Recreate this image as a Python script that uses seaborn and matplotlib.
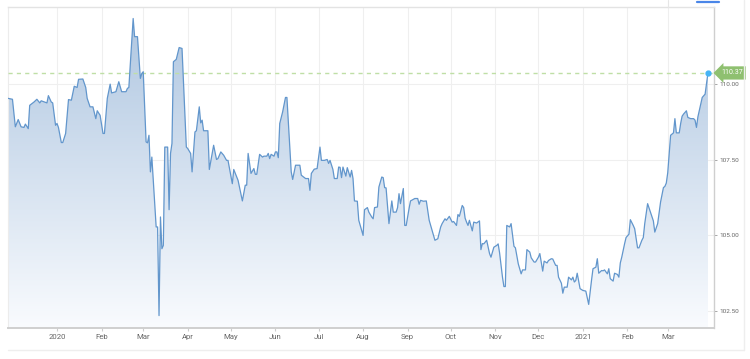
import matplotlib
matplotlib.use("Agg")
import matplotlib.pyplot as plt
import matplotlib.dates as mdates
import matplotlib.transforms as mtransforms
from matplotlib.colors import LinearSegmentedColormap
from matplotlib.lines import Line2D
import numpy as np
import pandas as pd
import seaborn as sns

# ---------------- data (days since 2020-01-01, value) ----------------
start_date = "2020-01-01"

days_dec_feb = [-34, -31, -29, -27, -25, -23, -22, -20, -19, -16, -14, -12, -11, -7, -6, -4, -3, -1, 0, 1,
                3, 4, 6, 8, 10, 12, 14, 15, 18, 20, 21, 23, 25, 27, 28, 30, 32, 33, 35, 37, 38, 41, 43, 45, 47]
vals_dec_feb = [109.53, 109.50, 108.59, 108.83, 108.59, 108.57, 108.68, 108.53, 109.30, 109.41, 109.50, 109.38,
                109.45, 109.38, 109.62, 109.41, 109.38, 108.64, 108.70, 108.57, 108.07, 108.07, 108.37, 109.49,
                109.47, 109.93, 109.89, 110.16, 110.17, 109.89, 109.53, 109.25, 109.25, 108.86, 109.12, 108.97,
                108.37, 108.37, 109.53, 110.00, 109.71, 109.75, 110.08, 109.75, 109.75]

days_feb_may = [48, 49, 50, 53, 54, 56, 58, 59, 60, 62, 63, 64, 65, 66, 69, 70, 71, 72, 73, 74, 75, 77, 78, 79,
                80, 81, 83, 85, 87, 90, 91, 93, 94, 96, 97, 99, 100, 101, 102, 105, 106, 109, 111, 112, 114, 116,
                118, 119, 122, 123]
vals_feb_may = [109.75, 109.86, 109.89, 112.17, 111.57, 111.57, 110.19, 110.35, 110.41, 108.09, 108.06, 108.31,
                107.10, 107.59, 105.28, 105.28, 102.35, 105.61, 104.56, 104.67, 107.92, 107.92, 105.85, 107.71,
                108.04, 110.74, 110.82, 111.21, 111.18, 107.92, 107.87, 107.71, 107.10, 108.42, 108.46, 109.25,
                108.72, 108.81, 108.46, 108.46, 107.18, 107.98, 107.51, 107.54, 107.76, 107.65, 107.48, 107.48,
                106.71, 107.18]

days_may_jul = [126, 129, 131, 132, 133, 135, 137, 138, 139, 141, 143, 144, 146, 147, 148, 149, 151, 152, 153,
                154, 155, 157, 159, 160, 162, 163, 164, 166, 168, 169, 170, 173, 175, 176, 177, 179, 181, 183,
                184, 186, 188, 189, 190, 192, 193, 195, 196, 197, 198, 199, 201, 202]
vals_may_jul = [106.82, 106.14, 106.66, 106.66, 107.71, 107.05, 107.21, 107.02, 107.02, 107.68, 107.59, 107.62,
                107.62, 107.71, 107.54, 107.68, 107.62, 107.76, 107.76, 107.57, 108.70, 109.08, 109.56, 109.56,
                107.92, 107.10, 106.85, 107.32, 107.32, 107.32, 106.99, 106.88, 106.88, 106.49, 107.05, 107.19,
                107.21, 107.92, 107.48, 107.48, 107.51, 107.38, 107.48, 107.18, 106.88, 106.88, 107.26, 107.25,
                106.91, 107.26, 106.96, 107.24]

days_jul_oct = [204, 205, 206, 207, 209, 210, 212, 213, 214, 216, 217, 219, 220, 221, 223, 224, 226, 227, 228,
                229, 231, 233, 234, 236, 237, 238, 239, 241, 242, 243, 245, 246, 249, 251, 252, 253, 255, 257,
                259, 261, 263, 265, 267, 268, 270, 271, 273, 275, 276, 278, 279, 280, 282, 283]
vals_jul_oct = [106.93, 107.15, 106.88, 106.14, 106.13, 105.50, 105.17, 105.00, 105.85, 105.92, 105.77, 105.61,
                105.55, 105.92, 105.94, 106.60, 106.93, 106.91, 106.58, 106.57, 105.39, 106.14, 105.77, 105.77,
                105.92, 106.38, 106.05, 106.55, 105.33, 105.33, 105.89, 106.14, 106.22, 106.22, 106.03, 106.16,
                106.13, 106.14, 105.50, 105.17, 104.84, 104.89, 105.28, 105.39, 105.55, 105.50, 105.63, 105.44,
                105.46, 105.33, 105.69, 105.63, 105.99, 105.92]

days_oct_dec = [284, 285, 286, 287, 289, 290, 292, 294, 295, 296, 297, 299, 301, 302, 304, 306, 307, 308, 310,
                311, 312, 313, 315, 316, 318, 319, 321, 323, 324, 326, 327, 329, 330, 332, 333, 335, 336, 338,
                339, 341, 342, 344, 345, 347, 348, 349, 351, 352, 353, 355, 356, 358, 359, 360, 361, 362]
vals_oct_dec = [105.57, 105.44, 105.33, 105.50, 105.15, 105.44, 105.41, 105.48, 104.53, 104.73, 104.72, 104.84,
                104.40, 104.28, 104.61, 104.67, 104.72, 104.42, 103.62, 103.31, 103.31, 105.33, 105.28, 105.39,
                104.64, 104.59, 104.06, 103.73, 103.86, 103.86, 104.53, 104.45, 104.26, 104.12, 104.12, 104.28,
                104.40, 103.82, 104.15, 104.09, 104.17, 104.23, 104.22, 104.01, 104.01, 103.62, 103.42, 103.09,
                103.29, 103.29, 103.62, 103.53, 103.62, 103.46, 103.51, 103.75]

days_dec_mar = [364, 366, 368, 370, 372, 373, 375, 376, 377, 379, 380, 381, 383, 384, 385, 387, 388, 390, 391,
                392, 393, 395, 396, 398, 399, 401, 402, 404, 405, 407, 408, 409, 411, 413, 415, 416, 418, 420,
                422, 423, 424, 425, 427, 429, 430, 431, 433, 434, 435, 436, 438, 439, 441, 443, 444, 445, 446,
                448, 449, 451, 453]
vals_dec_mar = [103.24, 103.18, 103.16, 102.72, 103.53, 103.90, 103.95, 104.23, 103.75, 103.84, 103.83, 103.86,
                103.73, 103.90, 103.57, 103.49, 103.75, 103.71, 103.62, 104.09, 104.28, 104.73, 104.93, 105.04,
                105.52, 105.33, 105.22, 104.59, 104.59, 104.84, 104.93, 105.39, 106.05, 105.77, 105.48, 105.11,
                105.39, 106.10, 106.58, 106.62, 106.73, 107.07, 108.31, 108.39, 108.86, 108.39, 108.39, 108.70,
                108.94, 109.01, 109.12, 108.90, 108.86, 108.86, 108.81, 108.57, 108.92, 109.34, 109.56, 109.67,
                110.37]

last_value = 110.37
y_ticks = [102.5, 105.0, 107.5, 110.0]
tick_months = ["2020-01-01", "2020-02-01", "2020-03-01", "2020-04-01", "2020-05-01", "2020-06-01",
               "2020-07-01", "2020-08-01", "2020-09-01", "2020-10-01", "2020-11-01", "2020-12-01",
               "2021-01-01", "2021-02-01", "2021-03-01"]
tick_labels = ["2020", "Feb", "Mar", "Apr", "May", "Jun", "Jul", "Aug", "Sep", "Oct", "Nov", "Dec",
               "2021", "Feb", "Mar"]

# ---------------- build frame ----------------
segments = [(days_dec_feb, vals_dec_feb), (days_feb_may, vals_feb_may), (days_may_jul, vals_may_jul),
            (days_jul_oct, vals_jul_oct), (days_oct_dec, vals_oct_dec), (days_dec_mar, vals_dec_mar)]
all_days, all_vals = [], []
for d, v in segments:
    assert len(d) == len(v)
    all_days += d
    all_vals += v
t0 = pd.Timestamp(start_date)
df = pd.DataFrame({"date": t0 + pd.to_timedelta(all_days, unit="D"), "value": all_vals})

# ---------------- figure ----------------
sns.set_theme(style="white")
plt.rcParams["font.family"] = ["Roboto", "DejaVu Sans"]

W, H = 750, 359
fig = plt.figure(figsize=(W / 100, H / 100), dpi=100)
fig.patch.set_facecolor("white")
ax = fig.add_axes([8 / W, 31 / H, 706 / W, 321 / H])

ymin, ymax = 101.94, 112.55
xmin = t0 + pd.Timedelta(days=-34.1)
xmax = t0 + pd.Timedelta(days=457.2)

# gradient area
poly = ax.fill_between(df["date"], df["value"], ymin, facecolor="none", edgecolor="none")
cmap = LinearSegmentedColormap.from_list("area", ["#f9fbfe", "#adc5e0"])
grad = np.linspace(0, 1, 256).reshape(-1, 1)
im = ax.imshow(grad, extent=[mdates.date2num(xmin), mdates.date2num(xmax), ymin, ymax],
               origin="lower", aspect="auto", cmap=cmap, zorder=1)
im.set_clip_path(poly.get_paths()[0], ax.transData)

sns.lineplot(data=df, x="date", y="value", ax=ax, color="#6296cc", linewidth=0.9, zorder=4)

ax.axhline(last_value, color="#bfdfa6", ls=(0, (3, 3)), lw=1.0, zorder=3)
ax.plot([df["date"].iloc[-1]], [last_value], "o", ms=3.5, color="#45b4f5", zorder=6)

trans = mtransforms.blended_transform_factory(ax.transAxes, ax.transData)
ax.text(1.0 + 7 / 706, last_value, "110.37", transform=trans, ha="left", va="center",
        fontsize=5.0, color="white", zorder=7, clip_on=False,
        bbox=dict(boxstyle="larrow,pad=0.45", fc="#8fc070", ec="none"))

ax.set_xlim(xmin, xmax)
ax.set_ylim(ymin, ymax)

ax.set_xticks(pd.to_datetime(tick_months))
ax.set_xticklabels(tick_labels)
ax.yaxis.tick_right()
ax.set_yticks(y_ticks)
ax.set_yticklabels([f"{v:.2f}" for v in y_ticks])
ax.set_xlabel("")
ax.set_ylabel("")

ax.grid(True, color="#efefef", lw=0.8)
ax.set_axisbelow(True)

ax.tick_params(axis="x", bottom=True, direction="out", length=2.5, width=0.8, color="#cccccc",
               labelsize=5.6, labelcolor="#666666", pad=2)
ax.tick_params(axis="y", right=True, left=False, direction="out", length=2.5, width=0.6,
               color="#999999", labelsize=4.6, labelcolor="#666666", pad=1.5)

for side, col, lw in [("bottom", "#cfcfcf", 1.4), ("right", "#cfcfcf", 1.0),
                      ("top", "#e3e3e3", 1.0), ("left", "#ececec", 0.8)]:
    ax.spines[side].set_color(col)
    ax.spines[side].set_linewidth(lw)
    ax.spines[side].set_visible(True)

# decorative page elements
fig.add_artist(Line2D([697 / W, 719 / W], [1 - 1.8 / H] * 2, color="#4a86e8", lw=1.6))
fig.add_artist(Line2D([668 / W, 668 / W], [1 - 7 / H, 1.0], color="#e6e6e6", lw=0.8))
fig.add_artist(Line2D([8 / W, 744 / W], [1 - 350 / H] * 2, color="#eeeeee", lw=1.0))
fig.add_artist(Line2D([744 / W, 744 / W], [1 - 350 / H, 1.0], color="#eeeeee", lw=1.0))

fig.savefig("out.png", dpi=100)
